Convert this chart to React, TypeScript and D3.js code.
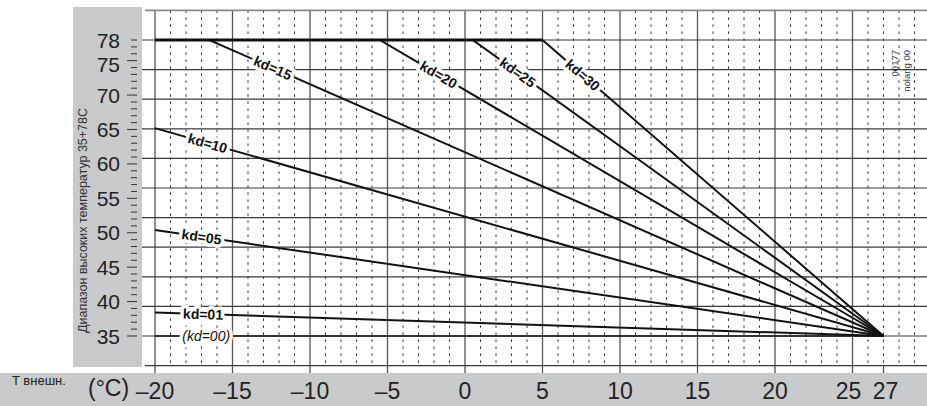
import React from 'react';
import * as d3 from 'd3';

const W = 927;
const H = 406;

// x axis (outdoor temperature, °C)
const xTickValues = [-20, -15, -10, -5, 0, 5, 10, 15, 20, 25, 27];
const xTickLabels = ['–20', '–15', '–10', '–5', '0', '5', '10', '15', '20', '25', '27'];
// y axis (flow temperature)
const yTickValues = [35, 40, 45, 50, 55, 60, 65, 70, 75, 78];
const yTickLabels = ['35', '40', '45', '50', '55', '60', '65', '70', '75', '78'];

// heating curves: each starts at T=-20 with startV, runs flat at 78 until breakT, then straight to (27, 35)
const kdNames = ['kd=30', 'kd=25', 'kd=20', 'kd=15', 'kd=10', 'kd=05', 'kd=01', '(kd=00)'];
const kdStartV = [78, 78, 78, 78, 65.2, 50.4, 38.4, 35];
const kdBreakT = [5, 0.5, -5.5, -16.5, -20, -20, -20, -20];
const kdLabelT = [7.6, 3.4, -1.7, -12.4, -16.6, -17.0, -16.9, -16.7];

const endT = 27;
const endV = 35;
const gridStepV = 4.3; // background grid-paper spacing in flow units

const FONT = "'Liberation Sans', Arial, Helvetica, sans-serif";

export default function App() {
  const x = d3.scaleLinear().domain([-20, 27]).range([155, 883.5]);
  const y = d3.scaleLinear().domain([35, 78]).range([336, 40]);

  const plotTop = y(35 + 10 * gridStepV + gridStepV);
  const plotBottom = y(35 - gridStepV);
  const hGrid = d3.range(-1, 12).map((i) => 35 + i * gridStepV);
  const tMax = x.invert(W);
  const vMajors = d3.range(-20, tMax + 0.01, 5);
  const vMinors = d3.range(-20, tMax + 0.01, 1).filter((t) => t % 5 !== 0);
  const yMinor = d3.range(35, 79, 1);

  const line = d3
    .line<[number, number]>()
    .x((d) => x(d[0]))
    .y((d) => y(d[1]));

  const curves = kdNames.map((name, i) => {
    const pts: [number, number][] = [[-20, kdStartV[i]]];
    if (kdBreakT[i] > -20) pts.push([kdBreakT[i], 78]);
    pts.push([endT, endV]);
    const bT = kdBreakT[i];
    const bV = kdBreakT[i] > -20 ? 78 : kdStartV[i];
    const lt = kdLabelT[i];
    const lv = bV + ((lt - bT) / (endT - bT)) * (endV - bV);
    const ang =
      (Math.atan2(y(endV) - y(bV), x(endT) - x(bT)) * 180) / Math.PI;
    return { name, pts, lx: x(lt), ly: y(lv), ang, italic: name.startsWith('(') };
  });

  const grayFill = '#c9cacc';

  return (
    <svg
      width={W}
      height={H}
      style={{ position: 'absolute', left: 0, top: 0, background: '#fff' }}
      fontFamily={FONT}
    >
      {/* gray panels */}
      <rect x={73} y={7} width={69} height={360} fill={grayFill} />
      <rect x={0} y={373} width={W} height={H - 373} fill={grayFill} />

      {/* minor dotted verticals */}
      {vMinors.map((t) => (
        <line
          key={'vm' + t}
          x1={x(t)}
          x2={x(t)}
          y1={plotTop}
          y2={plotBottom}
          stroke="#333"
          strokeWidth={1}
          strokeDasharray="2.5,4.5"
        />
      ))}
      {/* major verticals */}
      {vMajors.map((t) => (
        <line
          key={'vM' + t}
          x1={x(t)}
          x2={x(t)}
          y1={plotTop}
          y2={373}
          stroke="#555"
          strokeWidth={1.3}
        />
      ))}
      {/* tick at 27 */}
      <line x1={x(27)} x2={x(27)} y1={plotBottom} y2={373} stroke="#555" strokeWidth={1.3} />

      {/* horizontal grid */}
      {hGrid.map((v, i) => (
        <line
          key={'h' + i}
          x1={i === 0 || i === hGrid.length - 1 ? 145 : 142}
          x2={W}
          y1={y(v)}
          y2={y(v)}
          stroke={i === hGrid.length - 1 ? '#888' : '#3a3a3a'}
          strokeWidth={i === hGrid.length - 1 ? 1.6 : 1.2}
        />
      ))}

      {/* y minor ticks */}
      {yMinor.map((v) => {
        const major = yTickValues.includes(v) && v !== 78;
        return (
          <line
            key={'yt' + v}
            x1={major ? 127 : 131}
            x2={137}
            y1={y(v)}
            y2={y(v)}
            stroke="#333"
            strokeWidth={1}
          />
        );
      })}

      {/* y labels */}
      {yTickValues.map((v, i) => (
        <text
          key={'yl' + v}
          x={120}
          y={y(v)}
          dy={v === 75 ? '0.55em' : '0.36em'}
          textAnchor="end"
          fontSize={21}
          fill="#222"
        >
          {yTickLabels[i]}
        </text>
      ))}

      {/* y axis title */}
      <text
        transform={`translate(87,333) rotate(-90)`}
        fontSize={12.5}
        fill="#333"
        textAnchor="start"
      >
        Диапазон высоких температур 35+78C
      </text>

      {/* curves */}
      <line x1={x(-20)} x2={x(5)} y1={y(78)} y2={y(78)} stroke="#111" strokeWidth={3.2} />
      {curves.map((c) => (
        <path
          key={c.name}
          d={line(c.pts) || ''}
          fill="none"
          stroke="#111"
          strokeWidth={c.italic ? 1.6 : 2}
          strokeLinejoin="miter"
        />
      ))}

      {/* curve labels */}
      {curves.map((c) => (
        <text
          key={'l' + c.name}
          transform={`translate(${c.lx},${c.ly}) rotate(${c.ang})`}
          dy="0.36em"
          textAnchor="middle"
          fontSize={14}
          fontWeight={c.italic ? 'normal' : 'bold'}
          fontStyle={c.italic ? 'italic' : 'normal'}
          fill="#111"
          stroke="#fff"
          strokeWidth={7}
          strokeLinejoin="round"
          paintOrder="stroke"
        >
          {c.name}
        </text>
      ))}

      {/* right code text */}
      <text transform="translate(898,50) rotate(-90)" fontSize={9.5} fill="#333" textAnchor="end">
        00177
      </text>
      <text transform="translate(910,50) rotate(-90)" fontSize={9.5} fill="#333" textAnchor="end">
        nolang 00
      </text>

      {/* x axis labels */}
      <text x={12} y={385} fontSize={13} fill="#222">
        T внешн.
      </text>
      <text x={88} y={396} fontSize={23} fill="#222">
        (°C)
      </text>
      {xTickValues.map((t, i) => (
        <text
          key={'xl' + t}
          x={x(t) + (t === 25 ? -4 : t === 27 ? 2 : 0)}
          y={399}
          textAnchor="middle"
          fontSize={23}
          fill="#222"
        >
          {xTickLabels[i]}
        </text>
      ))}
    </svg>
  );
}
